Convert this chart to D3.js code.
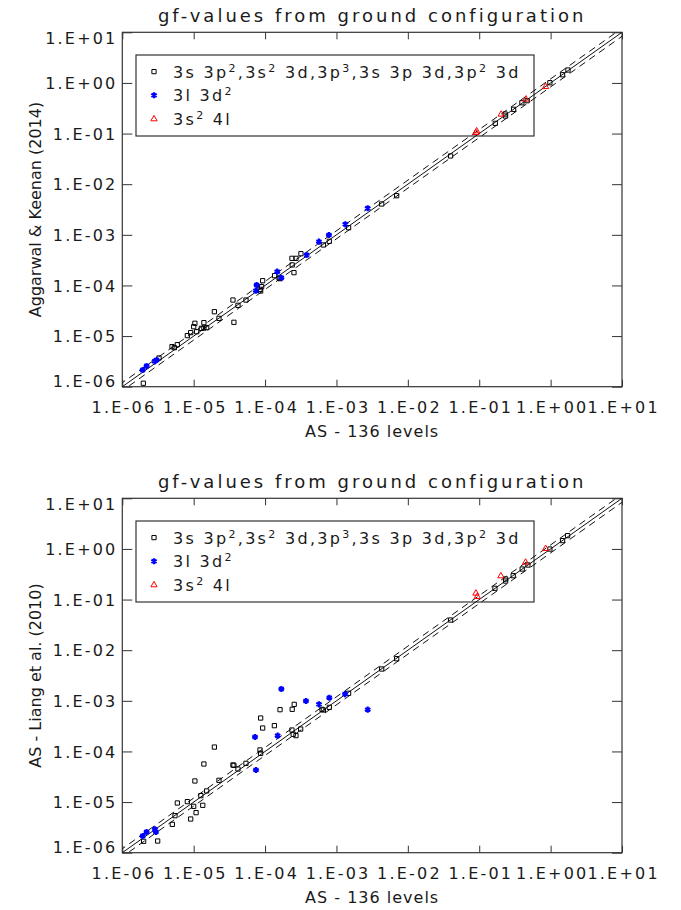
<html>
<head>
  <meta charset="utf-8">
  <title>gf-values from ground configuration</title>
  <style>
    html, body { margin: 0; padding: 0; background: #fff; }
    svg { display: block; }
    text { font-family: "DejaVu Sans", sans-serif; fill: #1a1a1a; }
  </style>
  <script src="https://d3js.org/d3.v7.min.js"></script>
</head>
<body>
<script>
  // axis ticks
  var tickValues = [1e-6, 1e-5, 1e-4, 1e-3, 1e-2, 1e-1, 1, 10];
  var tickLabels = ["1.E-06", "1.E-05", "1.E-04", "1.E-03", "1.E-02", "1.E-01", "1.E+00", "1.E+01"];
  var ratioLines = [1, 1.2, 1 / 1.2];

  // Aggarwal & Keenan (2014) vs AS  [x, y]
  var akBlack = [[1.97e-6,1.17e-6],[3.27e-6,3.69e-6],[4.97e-6,6.18e-6],[5.36e-6,5.90e-6],[5.90e-6,6.76e-6],
    [8.15e-6,1.02e-5],[9.08e-6,1.17e-5],[1.0e-5,1.53e-5],[1.04e-5,1.79e-5],[1.10e-5,1.22e-5],[1.28e-5,1.42e-5],
    [1.39e-5,1.84e-5],[1.39e-5,1.44e-5],[1.52e-5,1.47e-5],[1.95e-5,3.03e-5],[2.26e-5,2.24e-5],[3.55e-5,5.15e-5],
    [3.66e-5,1.87e-5],[4.17e-5,4.05e-5],[5.40e-5,5.15e-5],[8.49e-5,8.38e-5],[9.25e-5,1.24e-4],[8.95e-5,9.46e-5],
    [8.67e-5,7.76e-5],[1.36e-4,1.56e-4],[1.57e-4,1.40e-4],[1.62e-4,1.36e-4],[2.38e-4,3.43e-4],[2.71e-4,3.43e-4],
    [2.40e-4,2.54e-4],[2.54e-4,1.79e-4],[3.18e-4,4.24e-4],[6.55e-4,6.30e-4],[7.94e-4,7.43e-4],[1.48e-3,1.38e-3],
    [4.30e-3,4.06e-3],[6.97e-3,5.92e-3],[3.97e-2,3.61e-2],[0.168,0.159],[0.234,0.222],[0.231,0.243],[0.303,0.301],
    [0.396,0.406],[0.470,0.446],[0.977,1.01],[1.47,1.45],[1.75,1.80]];
  var akBlue = [[1.93e-6,2.14e-6],[2.19e-6,2.56e-6],[2.84e-6,3.17e-6],[3.03e-6,3.37e-6],[7.45e-5,7.89e-5],
    [7.62e-5,1.02e-4],[1.48e-4,1.87e-4],[1.69e-4,1.42e-4],[3.82e-4,3.99e-4],[5.69e-4,7.33e-4],[7.85e-4,9.91e-4],
    [1.33e-3,1.61e-3],[2.74e-3,3.34e-3]];
  var akRed = [[0.0920,0.112],[0.0899,0.104],[0.203,0.240],[0.451,0.474],[0.851,0.841]];

  // Liang et al. (2010) vs AS  [x, y]
  var liangBlack = [[1.99e-6,1.68e-6],[3.13e-6,1.70e-6],[5.02e-6,3.63e-6],[5.47e-6,5.38e-6],[5.90e-6,9.59e-6],
    [8.15e-6,1.02e-5],[9.08e-6,4.63e-6],[1.0e-5,8.24e-6],[1.04e-5,2.61e-5],[1.08e-5,6.18e-6],[1.26e-5,1.34e-5],
    [1.34e-5,8.63e-6],[1.39e-5,5.65e-5],[1.52e-5,1.66e-5],[1.95e-5,1.22e-4],[2.26e-5,2.69e-5],[3.55e-5,5.40e-5],
    [3.66e-5,5.32e-5],[4.17e-5,4.50e-5],[5.40e-5,5.82e-5],[8.49e-5,1.07e-4],[8.67e-5,9.18e-5],[8.67e-5,4.57e-4],
    [9.25e-5,2.90e-4],[1.35e-4,3.23e-4],[1.62e-4,6.68e-4],[2.40e-4,6.79e-4],[2.56e-4,8.51e-4],[2.38e-4,2.65e-4],
    [2.48e-4,2.18e-4],[2.71e-4,2.05e-4],[3.15e-4,2.77e-4],[6.27e-4,6.79e-4],[6.55e-4,6.58e-4],[7.94e-4,7.43e-4],
    [1.48e-3,1.41e-3],[4.30e-3,4.25e-3],[6.97e-3,6.79e-3],[3.97e-2,3.94e-2],[0.166,0.167],[0.234,0.232],
    [0.234,0.255],[0.299,0.296],[0.400,0.401],[0.481,0.481],[0.977,0.995],[1.47,1.46],[1.73,1.83]];
  var liangBlue = [[1.93e-6,2.14e-6],[2.19e-6,2.56e-6],[2.87e-6,2.90e-6],[2.96e-6,2.56e-6],[7.23e-5,1.93e-4],
    [7.46e-5,4.30e-5],[1.50e-4,2.05e-4],[1.69e-4,1.71e-3],[3.74e-4,9.91e-4],[5.69e-4,8.51e-4],[7.94e-4,1.15e-3],
    [1.32e-3,1.36e-3],[2.74e-3,6.68e-4]];
  var liangRed = [[0.0899,0.133],[0.0938,0.114],[0.201,0.292],[0.446,0.543],[0.851,1.01]];

  // legend text, pieces flagged as superscript
  var legendRows = [
    [["3s 3p", 0], ["2", 1], [",3s", 0], ["2", 1], [" 3d,3p", 0], ["3", 1], [",3s 3p 3d,3p", 0], ["2", 1], [" 3d", 0]],
    [["3l 3d", 0], ["2", 1]],
    [["3s", 0], ["2", 1], [" 4l", 0]]
  ];

  var svg = d3.select("body").append("svg")
    .attr("width", 681)
    .attr("height", 910);

  var left = 122.3, right = 622, plotH = 354.4;

  drawPanel({ top: 32.3, id: "a", ytitle: "Aggarwal & Keenan (2014)", black: akBlack, blue: akBlue, red: akRed });
  drawPanel({ top: 498.3, id: "b", ytitle: "AS - Liang et al. (2010)", black: liangBlack, blue: liangBlue, red: liangRed });

  function drawPanel(cfg) {
    var top = cfg.top, bottom = top + plotH;
    var x = d3.scaleLog().domain([1e-6, 10]).range([left, right]);
    var y = d3.scaleLog().domain([1e-6, 10]).range([bottom, top]);
    var g = svg.append("g");

    g.append("clipPath").attr("id", "clip" + cfg.id)
      .append("rect").attr("x", left).attr("y", top).attr("width", right - left).attr("height", plotH);

    // title
    g.append("text")
      .attr("x", (left + right) / 2).attr("y", top - 10)
      .attr("text-anchor", "middle")
      .style("font-size", "18px").style("letter-spacing", "3px")
      .text("gf-values from ground configuration");

    // axes: labels bottom/left, ticks only top/right
    var xb = g.append("g").attr("transform", "translate(0," + bottom + ")")
      .call(d3.axisBottom(x).tickValues(tickValues).tickSizeInner(-7).tickSizeOuter(0).tickPadding(14.5)
        .tickFormat(function (d, i) { return tickLabels[i]; }));
    g.append("g").attr("transform", "translate(0," + top + ")")
      .call(d3.axisTop(x).tickValues(tickValues).tickSizeInner(-7).tickSizeOuter(0).tickFormat(""));
    var yl = g.append("g").attr("transform", "translate(" + left + ",0)")
      .call(d3.axisLeft(y).tickValues(tickValues).tickSizeInner(-10).tickSizeOuter(0).tickPadding(7)
        .tickFormat(function (d, i) { return tickLabels[i]; }));
    g.append("g").attr("transform", "translate(" + right + ",0)")
      .call(d3.axisRight(y).tickValues(tickValues).tickSizeInner(-10).tickSizeOuter(0).tickFormat(""));

    g.selectAll(".domain").remove();
    g.selectAll(".tick line").attr("stroke", "#333");
    g.selectAll(".tick text")
      .attr("font-family", null).attr("font-size", null)
      .style("font-size", "16px").style("letter-spacing", "2.2px").attr("fill", "#1a1a1a");
    xb.selectAll(".tick text").attr("dx", "1.1px");
    yl.selectAll(".tick text").attr("dx", "2.2px")
      .attr("dy", function (d) { return d === 10 ? "0.72em" : d === 1e-6 ? "0.0em" : "0.35em"; });

    g.append("rect")
      .attr("x", left).attr("y", top).attr("width", right - left).attr("height", plotH)
      .attr("fill", "none").attr("stroke", "#333").attr("stroke-width", 1.2);

    // axis titles
    g.append("text")
      .attr("x", (left + right) / 2).attr("y", bottom + 50)
      .attr("text-anchor", "middle")
      .style("font-size", "16px").style("letter-spacing", "1px")
      .text("AS - 136 levels");
    g.append("text")
      .attr("transform", "translate(41," + (top + plotH / 2) + ") rotate(-90)")
      .attr("text-anchor", "middle")
      .style("font-size", "16px")
      .text(cfg.ytitle);

    // legend (transparent box, marks show through)
    var lg = g.append("g");
    lg.append("rect")
      .attr("x", 136).attr("y", top + 22.7).attr("width", 398).attr("height", 81)
      .attr("fill", "none").attr("stroke", "#333").attr("stroke-width", 1.2);

    var sq = d3.symbol().type(d3.symbolSquare).size(18);
    var ast = d3.symbol().type(d3.symbolAsterisk).size(26);
    var tri = d3.symbol().type(d3.symbolTriangle).size(17);
    var syms = [
      { d: sq, stroke: "#000", sw: 1 },
      { d: ast, stroke: "#0000ff", sw: 2.2 },
      { d: tri, stroke: "#ff0000", sw: 1 }
    ];
    legendRows.forEach(function (row, i) {
      var cy = top + 39.3 + i * 23.7;
      lg.append("path")
        .attr("transform", "translate(154," + cy + ")")
        .attr("d", syms[i].d).attr("fill", "none")
        .attr("stroke", syms[i].stroke).attr("stroke-width", syms[i].sw);
      var t = lg.append("text")
        .attr("x", 173).attr("y", cy + 6)
        .style("font-size", "16px").style("letter-spacing", "2.3px");
      row.forEach(function (p) {
        var ts = t.append("tspan").text(p[0]);
        if (p[1]) ts.attr("dy", "-6").style("font-size", "11px");
        else ts.attr("dy", t.selectAll("tspan").size() > 1 ? "6" : null);
      });
    });

    // reference lines y = x and +-20%
    var lines = g.append("g").attr("clip-path", "url(#clip" + cfg.id + ")");
    ratioLines.forEach(function (r) {
      lines.append("path")
        .datum([1e-7, 100])
        .attr("d", d3.line().x(function (d) { return x(d); }).y(function (d) { return y(d * r); }))
        .attr("fill", "none").attr("stroke", "#111").attr("stroke-width", 1)
        .attr("stroke-dasharray", r === 1 ? null : "7,5");
    });

    var pts = g.append("g").attr("clip-path", "url(#clip" + cfg.id + ")");
    pts.selectAll(".blk").data(cfg.black).enter().append("path")
      .attr("transform", function (d) { return "translate(" + x(d[0]) + "," + y(d[1]) + ")"; })
      .attr("d", sq).attr("fill", "none").attr("stroke", "#000").attr("stroke-width", 1);
    pts.selectAll(".blu").data(cfg.blue).enter().append("path")
      .attr("transform", function (d) { return "translate(" + x(d[0]) + "," + y(d[1]) + ")"; })
      .attr("d", ast).attr("fill", "none").attr("stroke", "#0000ff").attr("stroke-width", 2.2);
    pts.selectAll(".red").data(cfg.red).enter().append("path")
      .attr("transform", function (d) { return "translate(" + x(d[0]) + "," + y(d[1]) + ")"; })
      .attr("d", tri).attr("fill", "none").attr("stroke", "#ff0000").attr("stroke-width", 1);
  }
</script>
</body>
</html>
